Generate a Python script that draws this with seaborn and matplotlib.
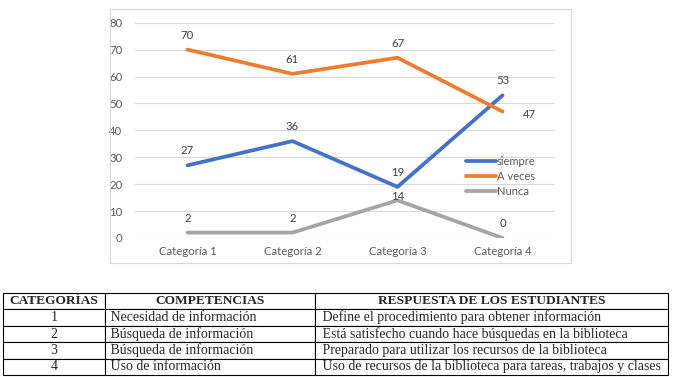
import pandas as pd
import numpy as np
import seaborn as sns
import matplotlib.pyplot as plt
from matplotlib.patches import Rectangle

# data
categorias = ['Categoría 1', 'Categoría 2', 'Categoría 3', 'Categoría 4']
siempre = [27, 36, 19, 53]
a_veces = [70, 61, 67, 47]
nunca = [2, 2, 14, 0]
series_names = ['siempre', 'A veces', 'Nunca']
colores = ['#4472C4', '#ED7D31', '#A5A5A5']

# table below the chart
tabla_header = ['CATEGORÍAS', 'COMPETENCIAS', 'RESPUESTA DE LOS ESTUDIANTES']
tabla_cat = ['1', '2', '3', '4']
tabla_comp = ['Necesidad de información', 'Búsqueda de información',
              'Búsqueda de información', 'Uso de información']
tabla_resp = ['Define el procedimiento para obtener información',
              'Está satisfecho cuando hace búsquedas en la biblioteca',
              'Preparado para utilizar los recursos de la biblioteca',
              'Uso de recursos de la biblioteca para tareas, trabajos y clases']

df = pd.DataFrame({'categoria': categorias * 3,
                   'valor': siempre + a_veces + nunca,
                   'serie': [s for s in series_names for _ in categorias]})

sns.set_theme(style='white')
plt.rcParams['font.family'] = ['Lato', 'DejaVu Sans']

W, H = 674, 377
fig = plt.figure(figsize=(W / 100, H / 100), dpi=100)

# chart frame
fig.patches.append(Rectangle((110 / W, 1 - 263 / H), 461 / W, 254 / H,
                             transform=fig.transFigure, fill=False,
                             edgecolor='#d9d9d9', lw=0.8))

ax = fig.add_axes([135 / W, 1 - 238 / H, 420 / W, 215.3 / H])
sns.lineplot(data=df, x='categoria', y='valor', hue='serie',
             palette=colores, lw=2.7, ax=ax, legend=False, sort=False)
ax.set_xlim(-0.5, 3.5)
ax.set_ylim(0, 80)
ax.set_yticks(range(0, 81, 10))
ax.yaxis.grid(True, color='#d9d9d9', lw=0.8)
ax.set_axisbelow(True)
for s in ax.spines.values():
    s.set_visible(False)
ax.set_xlabel('')
ax.set_ylabel('')
ax.tick_params(axis='y', length=0, pad=9, labelsize=8.2, labelcolor='#595959')
ax.tick_params(axis='x', length=0, pad=6, labelsize=8.2, labelcolor='#595959')

# data labels
offs = {'siempre': [(0, 10.5), (0, 10.5), (0, 10.5), (0, 10.5)],
        'A veces': [(0, 10.5), (0, 10.5), (0, 10.5), (19.5, -2.5)],
        'Nunca': [(0, 10.5), (0, 10.5), (0, 2.5), (0, 10.5)]}
for nombre, vals in zip(series_names, [siempre, a_veces, nunca]):
    for i, v in enumerate(vals):
        ax.annotate(str(v), (i, v), xytext=offs[nombre][i], textcoords='offset points',
                    ha='center', va='center', fontsize=8.2, color='#404040')

handles = [plt.Line2D([], [], color=c, lw=2.7) for c in colores]
ax.legend(handles, series_names, loc='upper left',
          bbox_to_anchor=(466 / W, 1 - 156 / H), bbox_transform=fig.transFigure,
          frameon=False, fontsize=8, handlelength=2.7, handletextpad=0.1,
          labelspacing=0.36, borderpad=0, borderaxespad=0, labelcolor='#595959')

# table
tax = fig.add_axes([3 / W, 1 - 375 / H, 665 / W, 82 / H])
tax.axis('off')
cells = [[c, ' ' + a, ' ' + b] for c, a, b in zip(tabla_cat, tabla_comp, tabla_resp)]
tb = tax.table(cellText=cells, colLabels=tabla_header, colWidths=[102, 210, 353],
               bbox=[0, 0, 1, 1], cellLoc='left')
tb.auto_set_font_size(False)
for (r, c), cell in tb.get_celld().items():
    cell.set_edgecolor('black')
    cell.set_linewidth(0.8)
    cell.PAD = 0.01
    txt = cell.get_text()
    txt.set_fontfamily('Liberation Serif')
    txt.set_fontsize(10)
    if r == 0:
        txt.set_fontweight('bold')
        txt.set_fontsize(9.6)
        txt.set_ha('center')
        cell._loc = 'center'
    elif c == 0:
        txt.set_ha('center')
        cell._loc = 'center'

fig.savefig('out.png', dpi=100)
